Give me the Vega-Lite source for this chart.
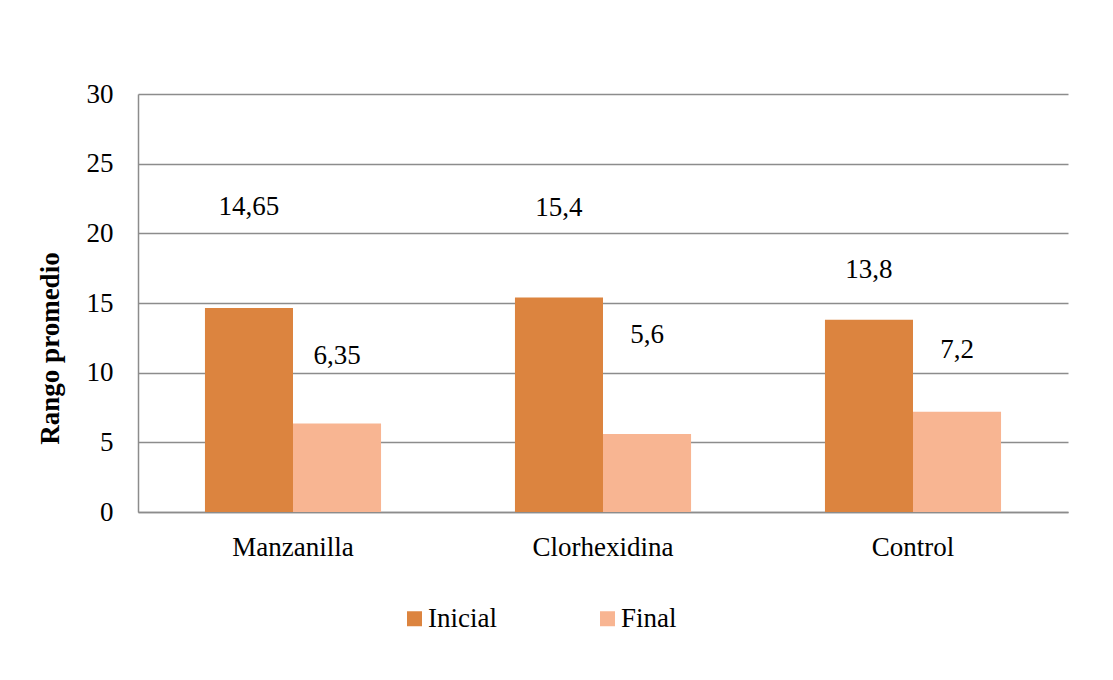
{
  "$schema": "https://vega.github.io/schema/vega-lite/v6.json",
  "autosize": {"type": "none"},
  "padding": {"left": 138, "top": 94, "right": 45, "bottom": 168},
  "width": 930,
  "height": 418,
  "background": "white",
  "config": {
    "view": {"stroke": null},
    "font": "Liberation Serif",
    "text": {"font": "Liberation Serif"}
  },
  "data": {
    "values": [
      {"categoria": "Manzanilla", "serie": "Inicial", "valor": 14.65, "etiqueta": "14,65"},
      {"categoria": "Manzanilla", "serie": "Final", "valor": 6.35, "etiqueta": "6,35"},
      {"categoria": "Clorhexidina", "serie": "Inicial", "valor": 15.4, "etiqueta": "15,4"},
      {"categoria": "Clorhexidina", "serie": "Final", "valor": 5.6, "etiqueta": "5,6"},
      {"categoria": "Control", "serie": "Inicial", "valor": 13.8, "etiqueta": "13,8"},
      {"categoria": "Control", "serie": "Final", "valor": 7.2, "etiqueta": "7,2"}
    ]
  },
  "encoding": {
    "x": {
      "field": "categoria", "type": "nominal", "sort": null,
      "scale": {"paddingInner": 0.432, "paddingOuter": 0.216},
      "axis": {
        "title": null, "labelAngle": 0, "ticks": false, "tickSize": 0,
        "labelFont": "Liberation Serif", "labelFontSize": 27, "labelColor": "#000000",
        "labelBaseline": "alphabetic", "labelPadding": 43,
        "domainColor": "#8c8c8c", "domainWidth": 1.5
      }
    },
    "xOffset": {
      "field": "serie", "type": "nominal", "sort": ["Inicial", "Final"],
      "scale": {"paddingInner": 0, "paddingOuter": 0}
    },
    "y": {
      "field": "valor", "type": "quantitative",
      "scale": {"domain": [0, 30], "nice": false},
      "axis": {
        "title": "Rango promedio", "values": [0, 5, 10, 15, 20, 25, 30],
        "ticks": false, "tickSize": 0,
        "labelFont": "Liberation Serif", "labelFontSize": 27, "labelColor": "#000000",
        "labelPadding": 25,
        "grid": true, "gridColor": "#8c8c8c", "gridWidth": 1.5,
        "domainColor": "#8c8c8c", "domainWidth": 1.5,
        "titleFont": "Liberation Serif", "titleFontSize": 27, "titleFontWeight": "bold",
        "titleColor": "#000000", "titleAngle": -90, "titleAlign": "center",
        "titleBaseline": "middle", "titleX": -88, "titleY": 254
      }
    }
  },
  "layer": [
    {
      "mark": {"type": "bar"},
      "encoding": {
        "color": {
          "field": "serie", "type": "nominal", "sort": ["Inicial", "Final"],
          "scale": {"domain": ["Inicial", "Final"], "range": ["#DC843F", "#F8B592"]},
          "legend": {
            "title": null, "orient": "none", "direction": "horizontal",
            "legendX": 263, "legendY": 511, "padding": 0,
            "symbolType": "square", "symbolSize": 225, "symbolStrokeWidth": 0,
            "labelFont": "Liberation Serif", "labelFontSize": 27, "labelColor": "#000000",
            "labelOffset": 0, "columnPadding": 97
          }
        }
      }
    },
    {
      "transform": [{"filter": "datum.categoria === 'Manzanilla' && datum.serie === 'Inicial'"}],
      "mark": {"type": "text", "fontSize": 27, "color": "#000000", "baseline": "middle", "dy": -101},
      "encoding": {"text": {"field": "etiqueta"}}
    },
    {
      "transform": [{"filter": "datum.categoria === 'Manzanilla' && datum.serie === 'Final'"}],
      "mark": {"type": "text", "fontSize": 27, "color": "#000000", "baseline": "middle", "dy": -68},
      "encoding": {"text": {"field": "etiqueta"}}
    },
    {
      "transform": [{"filter": "datum.categoria === 'Clorhexidina' && datum.serie === 'Inicial'"}],
      "mark": {"type": "text", "fontSize": 27, "color": "#000000", "baseline": "middle", "dy": -89},
      "encoding": {"text": {"field": "etiqueta"}}
    },
    {
      "transform": [{"filter": "datum.categoria === 'Clorhexidina' && datum.serie === 'Final'"}],
      "mark": {"type": "text", "fontSize": 27, "color": "#000000", "baseline": "middle", "dy": -99},
      "encoding": {"text": {"field": "etiqueta"}}
    },
    {
      "transform": [{"filter": "datum.categoria === 'Control' && datum.serie === 'Inicial'"}],
      "mark": {"type": "text", "fontSize": 27, "color": "#000000", "baseline": "middle", "dy": -50},
      "encoding": {"text": {"field": "etiqueta"}}
    },
    {
      "transform": [{"filter": "datum.categoria === 'Control' && datum.serie === 'Final'"}],
      "mark": {"type": "text", "fontSize": 27, "color": "#000000", "baseline": "middle", "dy": -62},
      "encoding": {"text": {"field": "etiqueta"}}
    }
  ]
}
